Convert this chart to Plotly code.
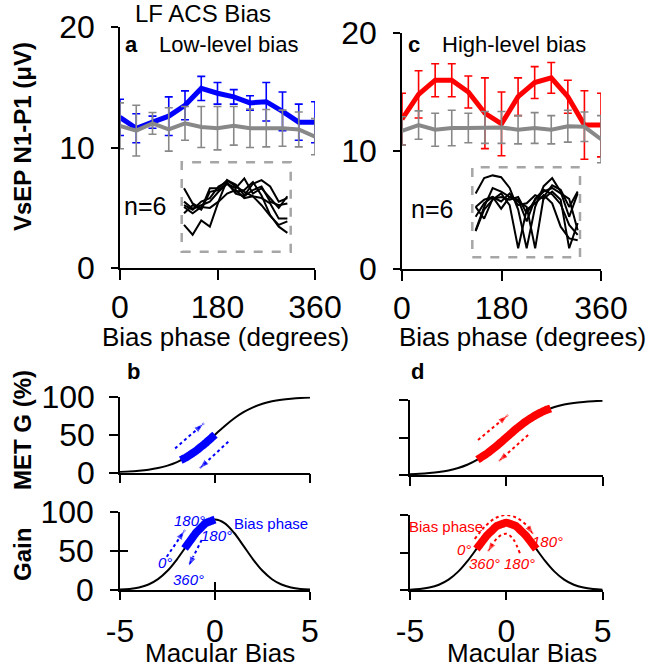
import numpy as np
import plotly.graph_objects as go

W, H = 649, 668
def PX(x): return x / W
def PY(y): return 1 - y / H

# ---------------- data ----------------
phase = [0, 30, 60, 90, 120, 150, 180, 210, 240, 270, 300, 330, 360]
low_bias_mean = [12.5, 11.6, 12.1, 12.6, 13.5, 14.9, 14.5, 14.2, 13.7, 13.8, 13.0, 12.1, 12.1]
low_bias_err = [1.5, 1.2, 0.5, 1.6, 1.2, 1.0, 0.9, 0.6, 0.6, 1.6, 1.6, 1.5, 1.7]
low_ctrl_mean = [11.8, 11.4, 12.0, 11.5, 12.0, 11.7, 11.6, 11.8, 11.6, 11.6, 11.6, 11.5, 10.9]
low_ctrl_err = [1.9, 2.1, 0.9, 1.8, 1.4, 1.7, 1.8, 1.6, 1.6, 1.55, 1.5, 1.45, 1.5]
high_bias_mean = [12.7, 14.8, 16.0, 16.0, 15.0, 13.2, 12.3, 14.6, 15.8, 16.2, 14.6, 12.2, 12.2]
high_bias_err = [2.2, 2.0, 1.4, 1.4, 1.35, 3.0, 2.7, 1.6, 1.35, 1.3, 1.4, 2.9, 2.7]
high_ctrl_mean = [11.7, 12.2, 11.8, 11.95, 11.95, 12.0, 12.0, 11.8, 11.95, 11.8, 12.1, 12.05, 11.0]
high_ctrl_err = [1.2, 1.2, 1.4, 1.5, 1.25, 1.35, 1.35, 1.2, 1.3, 1.2, 1.35, 1.25, 2.0]

# individual animals (inset, arbitrary units 0-10)
low_indiv = [
    [7.1, 5.4, 4.8, 7.1, 7.1, 8.0, 7.5, 6.3, 7.6, 8.0, 7.3, 5.6, 6.0],
    [5.6, 4.8, 5.2, 5.6, 6.7, 7.6, 6.7, 6.9, 7.8, 6.3, 4.1, 2.8, 2.1],
    [5.2, 4.7, 5.6, 6.0, 7.3, 7.8, 6.5, 6.2, 6.9, 7.3, 5.6, 5.2, 5.4],
    [4.3, 5.2, 4.7, 6.7, 6.9, 7.6, 7.1, 8.2, 6.5, 7.1, 6.0, 4.9, 6.2],
    [3.0, 1.9, 3.5, 2.8, 5.6, 8.0, 7.3, 6.7, 6.2, 5.2, 4.0, 3.0, 3.4],
    [5.0, 4.3, 5.0, 4.9, 5.6, 6.5, 6.9, 6.0, 6.2, 6.0, 5.4, 3.7, 3.7],
]
high_indiv = [
    [7.1, 8.8, 9.1, 8.9, 7.7, 5.3, 1.0, 5.6, 7.9, 8.8, 7.3, 4.5, 7.1],
    [3.0, 5.6, 7.7, 7.3, 6.7, 6.2, 5.6, 1.0, 6.7, 8.0, 7.5, 5.6, 7.3],
    [5.6, 4.3, 6.5, 6.7, 6.4, 6.7, 4.9, 6.4, 7.3, 7.7, 7.1, 6.5, 3.0],
    [4.5, 6.0, 6.7, 6.2, 7.1, 5.8, 6.0, 6.9, 6.5, 7.3, 6.4, 1.0, 3.8],
    [2.9, 5.3, 6.4, 7.1, 5.8, 1.0, 5.3, 6.0, 6.9, 6.0, 3.4, 2.1, 1.9],
    [5.6, 6.4, 6.7, 5.4, 6.7, 6.4, 4.0, 6.5, 7.5, 7.0, 5.9, 3.6, 2.5],
]

# model curves
macular = [-5, -4.5, -4, -3.5, -3, -2.5, -2, -1.5, -1, -0.5, 0, 0.5, 1, 1.5, 2, 2.5, 3, 3.5, 4, 4.5, 5]
met_g = [1.0, 1.6, 2.6, 4.0, 6.1, 9.3, 14.0, 20.4, 28.7, 38.8, 50.0, 61.2, 71.3, 79.6, 86.0, 90.7, 93.9, 96.0, 97.4, 98.4, 99.0]
gain = [0.5, 1.3, 3.2, 7.0, 13.8, 24.5, 39.2, 56.4, 73.1, 85.4, 90.0, 85.4, 73.1, 56.4, 39.2, 24.5, 13.8, 7.0, 3.2, 1.3, 0.5]

low_range_met = [-1.8, 0.0]
low_range_gain = [-1.6, 0.0]
high_range_met = [-1.5, 2.3]
high_range_gain = [-1.55, 1.55]

phase_ticks = [0, 180, 360]
vsep_ticks = [0, 10, 20]
bias_ticks = [-5, 0, 5]
bias_ticktext = ["-5", "0", "5"]
pct_ticks = [0, 50, 100]

BLUE = "#0000FF"
RED = "#FF0000"
GRAY = "#888888"
FONT = "Liberation Sans, Arial, sans-serif"

fig = go.Figure()

def err_trace(x, y, e, color, lw, xa, ya):
    return go.Scatter(x=x, y=y, mode="lines", line=dict(color=color, width=lw),
                      error_y=dict(type="data", array=e, visible=True, color=color,
                                   thickness=1.6, width=4),
                      xaxis=xa, yaxis=ya, showlegend=False, hoverinfo="skip")

fig.add_trace(err_trace(phase, low_bias_mean, low_bias_err, BLUE, 5, "x", "y"))
fig.add_trace(err_trace(phase, low_ctrl_mean, low_ctrl_err, GRAY, 4, "x", "y"))
fig.add_trace(err_trace(phase, high_bias_mean, high_bias_err, RED, 5, "x2", "y2"))
fig.add_trace(err_trace(phase, high_ctrl_mean, high_ctrl_err, GRAY, 4, "x2", "y2"))

for s in low_indiv:
    fig.add_trace(go.Scatter(x=phase, y=s, mode="lines", line=dict(color="black", width=2),
                             xaxis="x3", yaxis="y3", showlegend=False, hoverinfo="skip"))
for s in high_indiv:
    fig.add_trace(go.Scatter(x=phase, y=s, mode="lines", line=dict(color="black", width=2),
                             xaxis="x4", yaxis="y4", showlegend=False, hoverinfo="skip"))

def curve(xa, ya, yv):
    fig.add_trace(go.Scatter(x=macular, y=yv, mode="lines", line=dict(color="black", width=2, shape="spline"),
                             xaxis=xa, yaxis=ya, showlegend=False, hoverinfo="skip"))

def thick(xa, ya, yv, rng, color, w):
    xs = np.linspace(rng[0], rng[1], 30)
    ys = np.interp(xs, macular, yv)
    fig.add_trace(go.Scatter(x=xs, y=ys, mode="lines", line=dict(color=color, width=w, shape="spline"),
                             xaxis=xa, yaxis=ya, showlegend=False, hoverinfo="skip"))

def arrow(xa, ya, xs, ys, color):
    n = len(xs)
    fig.add_trace(go.Scatter(x=xs, y=ys, mode="lines+markers",
                             line=dict(color=color, width=2, dash="dot", shape="spline"),
                             marker=dict(symbol="arrow", size=[0] * (n - 1) + [11], color=color,
                                         angleref="previous"),
                             cliponaxis=False, xaxis=xa, yaxis=ya, showlegend=False, hoverinfo="skip"))

curve("x5", "y5", met_g)
thick("x5", "y5", met_g, low_range_met, BLUE, 8)
arrow("x5", "y5", [-2.1, -0.58], [32, 65], BLUE)
arrow("x5", "y5", [0.7, -0.84], [40.8, 4.9], BLUE)

curve("x6", "y6", gain)
thick("x6", "y6", gain, low_range_gain, BLUE, 8)
arrow("x6", "y6", [-2.54, -1.58], [42.5, 76.6], BLUE)
arrow("x6", "y6", [-0.7, -1.41], [63.9, 29.8], BLUE)

curve("x7", "y7", met_g)
thick("x7", "y7", met_g, high_range_met, RED, 8)
arrow("x7", "y7", [-1.47, 0.09], [46.7, 80], RED)
arrow("x7", "y7", [1.13, -0.43], [53.3, 17.7], RED)

curve("x8", "y8", gain)
thick("x8", "y8", gain, high_range_gain, RED, 8)
arrow("x8", "y8", [-1.64, -1.1, -0.55, 0, 0.55, 1.1, 1.42], [68, 85, 96, 100, 96, 85, 73], RED)
arrow("x8", "y8", [0.7, 0.35, 0, -0.4, -0.75, -0.98], [49, 68, 75, 71, 60, 50], RED)

# invisible trace so the inward tick overlay axes of panel b (Gain) are drawn
fig.add_trace(go.Scatter(x=macular, y=gain, mode="lines", line=dict(width=0, color="rgba(0,0,0,0)"),
                         xaxis="x9", yaxis="y9", showlegend=False, hoverinfo="skip"))

# ---------------- axes ----------------
base = dict(showgrid=False, zeroline=False, showline=True, linecolor="black", linewidth=1.5,
            ticks="outside", tickcolor="black", tickwidth=1.5, automargin=False,
            tickfont=dict(family=FONT, size=32, color="black"))
hidden = dict(visible=False, automargin=False)

def dom(x0, x1):
    return [PX(x0), PX(x1)]

def domy(top, bottom):
    return [PY(bottom), PY(top)]

layout = dict(
    xaxis=dict(base, domain=dom(120, 315), range=[0, 360], tickvals=phase_ticks, ticklen=10,
               anchor="y", ticklabelstandoff=0),
    yaxis=dict(base, domain=domy(27, 268), range=[0, 20], tickvals=vsep_ticks, ticklen=7,
               anchor="x", ticklabelstandoff=10),
    xaxis2=dict(base, domain=dom(402, 601), range=[0, 360], tickvals=phase_ticks, ticklen=10,
                anchor="y2", ticklabelstandoff=0),
    yaxis2=dict(base, domain=domy(33, 269), range=[0, 20], tickvals=vsep_ticks, ticklen=7,
                anchor="x2", ticklabelstandoff=10),
    xaxis3=dict(hidden, domain=dom(181.7, 290.7), range=[-8.1, 371.6], anchor="y3"),
    yaxis3=dict(hidden, domain=domy(162.3, 251.7), range=[0, 10], anchor="x3"),
    xaxis4=dict(hidden, domain=dom(472.3, 580), range=[-11.8, 368.2], anchor="y4"),
    yaxis4=dict(hidden, domain=domy(167.3, 257.3), range=[0, 10], anchor="x4"),
    xaxis5=dict(base, domain=dom(120, 310), range=[-5, 5], tickvals=bias_ticks, ticklen=9,
                showticklabels=False, anchor="y5"),
    yaxis5=dict(base, domain=domy(396.7, 472.7), range=[0, 100], tickvals=pct_ticks, ticklen=9,
                anchor="x5", ticklabelstandoff=8),
    xaxis6=dict(base, domain=dom(120, 310), range=[-5, 5], tickvals=bias_ticks, ticktext=bias_ticktext,
                ticklen=8, anchor="y6", ticklabelstandoff=4),
    yaxis6=dict(base, domain=domy(511.7, 590), range=[0, 100], tickvals=pct_ticks, ticklen=8,
                anchor="x6", ticklabelstandoff=10),
    xaxis7=dict(base, domain=dom(410, 602.7), range=[-5, 5], tickvals=bias_ticks, ticklen=9,
                showticklabels=False, anchor="y7"),
    yaxis7=dict(base, domain=domy(400, 475), range=[0, 100], tickvals=pct_ticks, ticklen=9,
                showticklabels=False, anchor="x7"),
    xaxis8=dict(base, domain=dom(410, 602.7), range=[-5, 5], tickvals=bias_ticks, ticktext=bias_ticktext,
                ticklen=8, anchor="y8", ticklabelstandoff=4),
    yaxis8=dict(base, domain=domy(515, 590), range=[0, 100], tickvals=pct_ticks, ticklen=8,
                showticklabels=False, anchor="x8"),
    xaxis9=dict(base, overlaying="x6", anchor="y6", side="bottom", range=[-5, 5], tickvals=bias_ticks,
                ticks="inside", ticklen=8, showticklabels=False, showline=False),
    yaxis9=dict(base, overlaying="y6", anchor="x6", side="left", range=[0, 100], tickvals=[50, 100],
                ticks="inside", ticklen=8, showticklabels=False, showline=False),
)
fig.update_layout(**layout)

# inset boxes
for xr, yr in (("x3 domain", "y3 domain"), ("x4 domain", "y4 domain")):
    fig.add_shape(type="rect", xref=xr, yref=yr, x0=0, x1=1, y0=0, y1=1,
                  line=dict(color="#A6A6A6", width=2.5, dash="dash"))

# ---------------- text ----------------
ann = []
def T(text, x, y, size, color="black", bold=False, angle=0, xanchor="center"):
    if bold:
        text = "<b>" + text + "</b>"
    ann.append(dict(text=text, x=PX(x), y=PY(y), xref="paper", yref="paper", showarrow=False,
                    xanchor=xanchor, yanchor="middle", textangle=angle,
                    font=dict(family=FONT, size=size, color=color)))

T("LF ACS Bias", 203, 13, 24)
T("a", 131, 45, 22, bold=True)
T("Low-level bias", 228, 45, 22)
T("c", 414, 45, 22, bold=True)
T("High-level bias", 514, 45, 22)
T("n=6", 145, 206, 25)
T("n=6", 432, 209, 25)
T("Bias phase (degrees)", 225, 337, 26)
T("Bias phase (degrees)", 522, 337, 26)
T("VsEP N1-P1 (μV)", 22, 137, 24, bold=True, angle=-90)
T("MET G (%)", 22, 430, 24, bold=True, angle=-90)
T("Gain", 22, 555, 24, bold=True, angle=-90)
T("b", 133, 372, 22, bold=True)
T("d", 418, 372, 22, bold=True)
T("Macular Bias", 220, 653, 26)
T("Macular Bias", 522, 653, 26)

fig.update_layout(annotations=ann)

# small labels in data coordinates
def L(text, xa, ya, x, y, color, italic=True):
    if italic:
        text = "<i>" + text + "</i>"
    fig.add_annotation(text=text, x=x, y=y, xref=xa, yref=ya, showarrow=False,
                       xanchor="center", yanchor="middle",
                       font=dict(family=FONT, size=15, color=color))

L("180°", "x6", "y6", -1.32, 88.5, BLUE)
L("180°", "x6", "y6", 0.1, 70.2, BLUE)
L("0°", "x6", "y6", -2.63, 34.5, BLUE)
L("360°", "x6", "y6", -1.41, 12.8, BLUE)
L("Bias phase", "x6", "y6", 2.93, 85.2, BLUE, italic=False)
L("Bias phase", "x8", "y8", -3.11, 85.3, RED, italic=False)
L("0°", "x8", "y8", -2.21, 54.3, RED)
L("180°", "x8", "y8", 2.16, 65.3, RED)
L("360°", "x8", "y8", -1.16, 35.6, RED)
L("180°", "x8", "y8", 0.7, 35.6, RED)

fig.update_layout(width=W, height=H, autosize=False,
                  margin=dict(l=0, r=0, t=0, b=0, pad=0, autoexpand=False),
                  paper_bgcolor="white", plot_bgcolor="rgba(0,0,0,0)", showlegend=False,
                  font=dict(family=FONT, color="black"))

fig.write_html("out.html", include_plotlyjs=True, config={"displayModeBar": False},
               post_script="document.body.style.margin='0';document.body.style.padding='0';"
                           "document.body.style.overflow='hidden';")
